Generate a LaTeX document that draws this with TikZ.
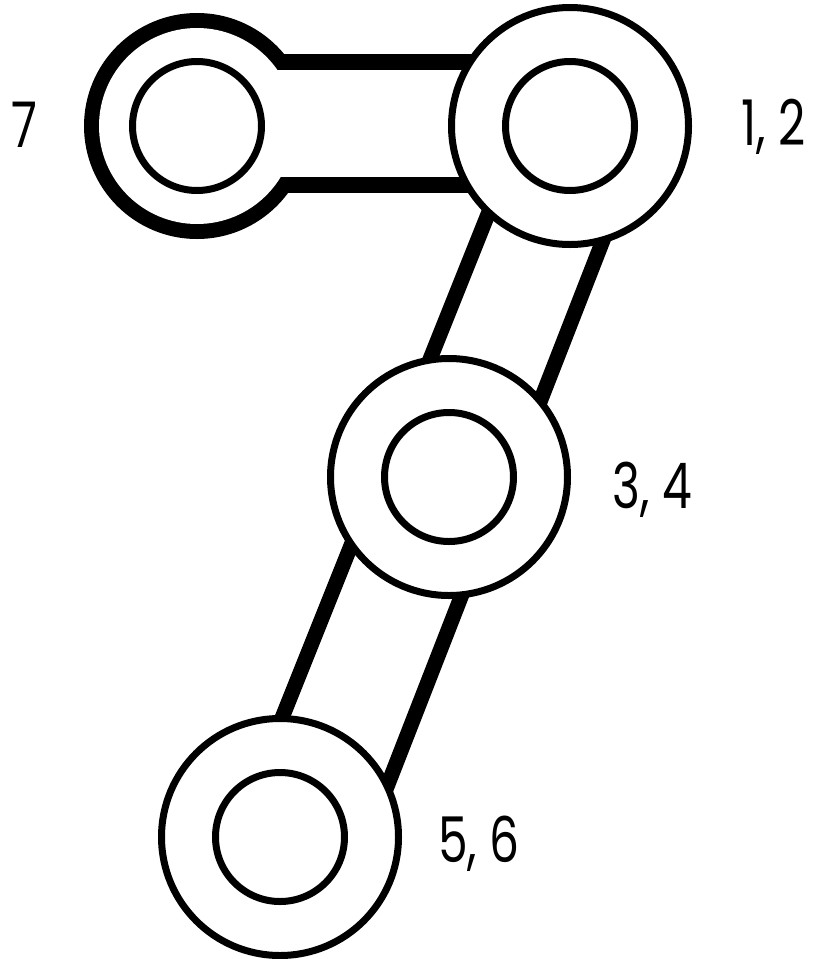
\documentclass[tikz,border=0pt]{standalone}
\usepackage{fontspec}
\setmainfont{Poppins}[FakeStretch=0.75]
\usetikzlibrary{calc}
\tikzset{
  ring/.style={circle, draw=black, fill=white, line width=7pt, inner sep=0pt, minimum size=237pt},
  hole/.style={circle, draw=black, fill=white, line width=7pt, inner sep=0pt, minimum size=129pt},
  band/.style={line width=15pt, black},
  lbl/.style={anchor=base, inner sep=0pt, font=\fontsize{63}{63}\selectfont}
}
\begin{document}
\begin{tikzpicture}[x=1pt, y=-1pt]
\useasboundingbox (0,0) rectangle (813,959);
% centres
\coordinate (c7) at (197,126);
\coordinate (c12) at (570,126);
\coordinate (c34) at (449,477);
\coordinate (c56) at (280,837);
% circle 7 with top band (union outline)
\draw[line width=30pt] (c7) circle[radius=98];
\draw[line width=32pt] ($(c7)+(0,-56)$) rectangle ($(c12)+(0,51)$);
\fill[white] (c7) circle[radius=98];
\fill[white] ($(c7)+(0,-56)$) rectangle ($(c12)+(0,51)$);
\node[hole] (h7) at (c7) {};
% diagonal bands
\draw[band] ($(c12)+(-56.3,24)$) -- ($(c34)+(-66.1,0)$);
\draw[band] ($(c12)+(68.2,24)$) -- ($(c34)+(61.7,0)$);
\draw[band] ($(c34)+(-70.6,0)$) -- ($(c56)+(-45.6,0)$);
\draw[band] ($(c34)+(58.8,0)$) -- ($(c56)+(87.4,0)$);
% rings
\node[ring] (r12) at (c12) {};
\node[hole] (h12) at (c12) {};
\node[ring] (r34) at (c34) {};
\node[hole] (h34) at (c34) {};
\node[ring] (r56) at (c56) {};
\node[hole] (h56) at (c56) {};
% labels
\node[lbl] (l7) at (24,147) {7};
\node[lbl] (l12) at (774,145) {1, 2};
\node[lbl] (l34) at (652,508) {3, 4};
\node[lbl] (l56) at (479,862) {5, 6};
\end{tikzpicture}
\end{document}
